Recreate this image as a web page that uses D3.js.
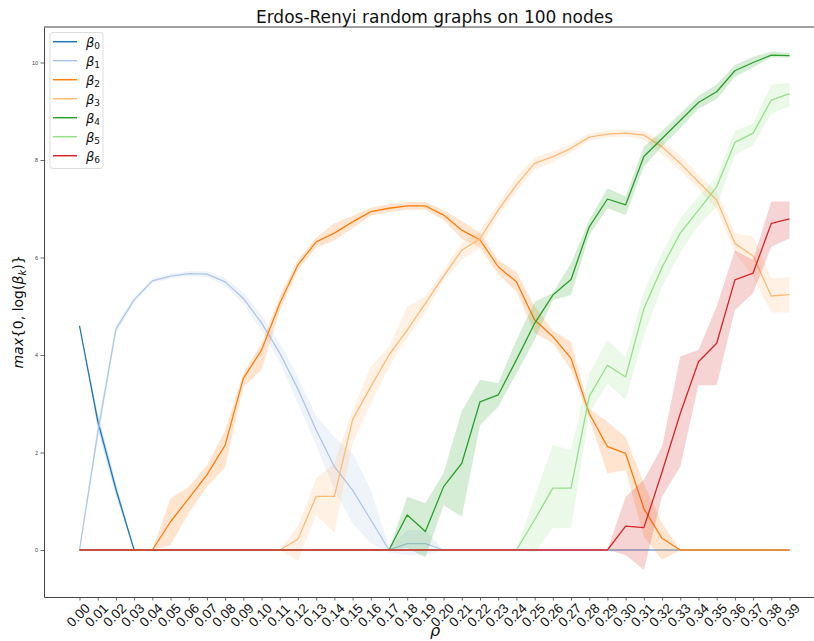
<!DOCTYPE html>
<html>
<head>
<meta charset="utf-8">
<script src="https://cdn.jsdelivr.net/npm/d3@7"></script>
<style>
  html, body { margin: 0; padding: 0; background: #fff; overflow: hidden; }
  svg { display: block; font-family: "DejaVu Sans", sans-serif; }
</style>
</head>
<body>
<svg id="chart" width="814" height="641"></svg>
<script>
// ---------- data ----------
const rho = [0.00,0.01,0.02,0.03,0.04,0.05,0.06,0.07,0.08,0.09,
             0.10,0.11,0.12,0.13,0.14,0.15,0.16,0.17,0.18,0.19,
             0.20,0.21,0.22,0.23,0.24,0.25,0.26,0.27,0.28,0.29,
             0.30,0.31,0.32,0.33,0.34,0.35,0.36,0.37,0.38,0.39];
const tickLabels = rho.map(d => d.toFixed(2));
const yTicks = [0, 2, 4, 6, 8, 10];
const seriesNames = ["0","1","2","3","4","5","6"];
const colors = ["#1f77b4","#aec7e8","#ff7f0e","#ffbb78","#2ca02c","#98df8a","#d62728"];

const b0   = [4.6,2.65,1.25,0,0,0,0,0,0,0, 0,0,0,0,0,0,0,0,0,0, 0,0,0,0,0,0,0,0,0,0, 0,0,0,0,0,0,0,0,0,0];
const b0Lo = [4.6,2.5,1.12,0,0,0,0,0,0,0, 0,0,0,0,0,0,0,0,0,0, 0,0,0,0,0,0,0,0,0,0, 0,0,0,0,0,0,0,0,0,0];
const b0Hi = [4.6,2.8,1.38,0,0,0,0,0,0,0, 0,0,0,0,0,0,0,0,0,0, 0,0,0,0,0,0,0,0,0,0, 0,0,0,0,0,0,0,0,0,0];

const b1   = [0,2.4,4.53,5.13,5.52,5.62,5.67,5.66,5.5,5.16, 4.66,4.04,3.3,2.46,1.71,1.23,0.62,0,0.13,0.13, 0,0,0,0,0,0,0,0,0,0, 0,0,0,0,0,0,0,0,0,0];
const b1Lo = [0,2.22,4.43,5.08,5.47,5.57,5.62,5.6,5.42,5.04, 4.5,3.85,3.0,2.15,1.23,0.55,0.14,-0.05,-0.1,-0.1, 0,0,0,0,0,0,0,0,0,0, 0,0,0,0,0,0,0,0,0,0];
const b1Hi = [0,2.6,4.63,5.18,5.57,5.67,5.72,5.72,5.58,5.28, 4.82,4.25,3.55,2.75,2.32,1.98,1.23,0.05,0.41,0.41, 0,0,0,0,0,0,0,0,0,0, 0,0,0,0,0,0,0,0,0,0];

const b2   = [0,0,0,0,0,0.58,1.06,1.54,2.15,3.52, 4.1,5.06,5.85,6.32,6.5,6.73,6.94,7.01,7.06,7.06, 6.87,6.56,6.36,5.81,5.5,4.72,4.38,3.93,2.8,2.12, 1.98,0.85,0.24,0,0,0,0,0,0,0];
const b2Lo = [0,0,0,0,0,0.1,0.76,1.3,1.7,3.35, 3.69,4.9,5.75,6.2,6.35,6.6,6.86,6.93,6.98,6.98, 6.77,6.38,6.2,5.65,5.3,4.45,4.24,3.69,2.7,1.57, 1.64,0.27,-0.2,0,0,0,0,0,0,0];
const b2Hi = [0,0,0,0,0,1.06,1.3,1.74,2.45,3.62, 4.24,5.2,5.95,6.4,6.7,6.85,7.02,7.09,7.14,7.14, 6.97,6.75,6.5,5.95,5.7,5.0,4.51,4.27,2.9,2.63, 2.32,1.37,0.55,0,0,0,0,0,0,0];

const b3   = [0,0,0,0,0,0,0,0,0,0, 0,0,0.22,1.1,1.1,2.67,3.35,4.0,4.51,5.06, 5.62,6.15,6.39,6.97,7.49,7.93,8.07,8.24,8.47,8.53, 8.55,8.51,8.27,7.93,7.55,7.18,6.29,6.03,5.21,5.24];
const b3Lo = [0,0,0,0,0,0,0,0,0,0, 0,0,-0.22,0.72,0.35,2.19,3.0,3.76,4.35,4.86, 5.54,5.95,6.2,6.85,7.35,7.8,7.95,8.15,8.4,8.46, 8.48,8.42,8.12,7.78,7.4,7.0,6.1,5.6,4.87,4.87];
const b3Hi = [0,0,0,0,0,0,0,0,0,0, 0,0,0.5,1.47,1.78,2.87,3.76,4.17,4.99,5.2, 5.74,6.3,6.55,7.1,7.65,8.05,8.18,8.33,8.55,8.6, 8.62,8.6,8.4,8.1,7.7,7.35,6.5,6.43,5.57,5.6];

const b4   = [0,0,0,0,0,0,0,0,0,0, 0,0,0,0,0,0,0,0,0.72,0.38, 1.3,1.78,3.04,3.18,3.9,4.65,5.23,5.55,6.63,7.2, 7.08,8.07,8.44,8.81,9.18,9.4,9.83,10.0,10.15,10.14];
const b4Lo = [0,0,0,0,0,0,0,0,0,0, 0,0,0,0,0,0,0,0,0.04,-0.15, 0.92,0.68,2.56,2.94,3.62,4.31,5.13,5.23,6.46,7.01, 6.87,7.86,8.28,8.65,9.05,9.25,9.7,9.9,10.1,10.1];
const b4Hi = [0,0,0,0,0,0,0,0,0,0, 0,0,0,0,0,0,0,0,1.09,0.96, 1.58,2.85,3.49,3.42,4.31,5.09,5.27,5.88,6.77,7.42, 7.25,8.27,8.6,8.95,9.32,9.55,9.95,10.12,10.22,10.2];

const b5   = [0,0,0,0,0,0,0,0,0,0, 0,0,0,0,0,0,0,0,0,0, 0,0,0,0,0,0.62,1.27,1.27,3.15,3.79, 3.55,4.95,5.8,6.5,6.97,7.45,8.36,8.55,9.23,9.36];
const b5Lo = [0,0,0,0,0,0,0,0,0,0, 0,0,0,0,0,0,0,0,0,0, 0,0,0,0,0,-0.05,0.45,0.45,2.8,3.42, 3.08,4.4,5.4,6.1,6.65,7.05,8.1,8.3,8.95,9.1];
const b5Hi = [0,0,0,0,0,0,0,0,0,0, 0,0,0,0,0,0,0,0,0,0, 0,0,0,0,0,1.09,2.15,2.05,3.62,4.31, 3.95,5.3,6.1,6.8,7.25,7.65,8.6,8.75,9.55,9.58];

const b6   = [0,0,0,0,0,0,0,0,0,0, 0,0,0,0,0,0,0,0,0,0, 0,0,0,0,0,0,0,0,0,0, 0.49,0.46,1.6,2.8,3.86,4.24,5.54,5.68,6.7,6.79];
const b6Lo = [0,0,0,0,0,0,0,0,0,0, 0,0,0,0,0,0,0,0,0,0, 0,0,0,0,0,0,0,0,0,0, -0.1,-0.41,1.1,1.71,3.38,3.38,4.92,5.27,6.22,6.39];
const b6Hi = [0,0,0,0,0,0,0,0,0,0, 0,0,0,0,0,0,0,0,0,0, 0,0,0,0,0,0,0,0,0,0, 1.09,1.44,2.12,3.97,4.1,5.0,6.15,5.95,7.15,7.15];

const means = [b0,b1,b2,b3,b4,b5,b6];
const lows  = [b0Lo,b1Lo,b2Lo,b3Lo,b4Lo,b5Lo,b6Lo];
const highs = [b0Hi,b1Hi,b2Hi,b3Hi,b4Hi,b5Hi,b6Hi];

// ---------- layout ----------
const svg = d3.select("#chart");
const L = 44, R = 825, T = 27, B = 597;
const x = d3.scaleLinear().domain([-0.0195, 0.4095]).range([L, R]);
const y = d3.scaleLinear().domain([-0.964, 10.728]).range([B, T]);

svg.append("clipPath").attr("id","plotclip")
  .append("rect").attr("x", L).attr("y", T).attr("width", R - L).attr("height", B - T);

const plot = svg.append("g").attr("clip-path", "url(#plotclip)");

const area = d3.area().x((d,i) => x(rho[i])).y0(d => y(d[0])).y1(d => y(d[1]));
const line = d3.line().x((d,i) => x(rho[i])).y(d => y(d));

means.forEach((m, k) => {
  plot.append("path")
    .attr("d", line(m))
    .attr("fill", "none")
    .attr("stroke", colors[k])
    .attr("stroke-width", 1.3)
    .attr("stroke-linejoin", "round");
  plot.append("path")
    .attr("d", area(lows[k].map((lo, i) => [lo, highs[k][i]])))
    .attr("fill", colors[k])
    .attr("fill-opacity", 0.2)
    .attr("stroke", "none");
});

// ---------- axes ----------
const xAxis = d3.axisBottom(x).tickValues(rho).tickSizeInner(3.5).tickSizeOuter(0).tickFormat("");
const gx = svg.append("g").attr("transform", `translate(0,${B})`).call(xAxis);
gx.select(".domain").attr("stroke", "#444").attr("stroke-width", 1);
gx.selectAll(".tick line").attr("stroke", "#444").attr("stroke-width", 0.8);
gx.selectAll(".tick").append("text")
  .attr("transform", "translate(-1,19) rotate(-45)")
  .attr("text-anchor", "middle")
  .attr("dominant-baseline", "middle")
  .attr("fill", "#111")
  .style("font-size", "13.5px")
  .text((d, i) => tickLabels[i]);

const yAxis = d3.axisLeft(y).tickValues(yTicks).tickSizeInner(3.5).tickSizeOuter(0).tickPadding(2.5).tickFormat(d3.format("d"));
const gy = svg.append("g").attr("transform", `translate(${L},0)`).call(yAxis);
gy.select(".domain").attr("stroke", "#444").attr("stroke-width", 1);
gy.selectAll(".tick line").attr("stroke", "#444").attr("stroke-width", 0.8);
gy.selectAll(".tick text").attr("fill", "#444").style("font-size", "5.5px");

// top spine
svg.append("line").attr("x1", L).attr("x2", R).attr("y1", T).attr("y2", T)
  .attr("stroke", "#444").attr("stroke-width", 1);

// ---------- labels ----------
svg.append("text").attr("x", 434.5).attr("y", 23).attr("text-anchor", "middle")
  .style("font-size", "17px").attr("fill", "#111")
  .text("Erdos-Renyi random graphs on 100 nodes");

svg.append("text").attr("x", 435).attr("y", 636).attr("text-anchor", "middle")
  .style("font-size", "16px").style("font-style", "italic").attr("fill", "#111")
  .text("ρ");

const yl = svg.append("text")
  .attr("transform", "translate(23,312) rotate(-90)")
  .attr("text-anchor", "middle")
  .style("font-size", "14px").attr("fill", "#111");
yl.append("tspan").style("font-style", "italic").text("max");
yl.append("tspan").text("{0, log(");
yl.append("tspan").style("font-style", "italic").text("β");
yl.append("tspan").style("font-style", "italic").style("font-size", "10px").attr("dy", 3).text("k");
yl.append("tspan").attr("dy", -3).text(")}");

// ---------- legend ----------
const lg = svg.append("g");
lg.append("rect").attr("x", 50).attr("y", 32.5).attr("width", 53).attr("height", 136)
  .attr("rx", 3).attr("fill", "#fff").attr("fill-opacity", 0.8)
  .attr("stroke", "#ddd").attr("stroke-width", 1);
seriesNames.forEach((s, k) => {
  const yy = 41.7 + k * 19;
  lg.append("line").attr("x1", 53).attr("x2", 77).attr("y1", yy).attr("y2", yy)
    .attr("stroke", colors[k]).attr("stroke-width", 1.5);
  const t = lg.append("text").attr("x", 86).attr("y", yy + 5).style("font-size", "13px").attr("fill", "#111");
  t.append("tspan").style("font-style", "italic").text("β");
  t.append("tspan").style("font-size", "9px").attr("dy", 2.5).text(s);
});
</script>
</body>
</html>
